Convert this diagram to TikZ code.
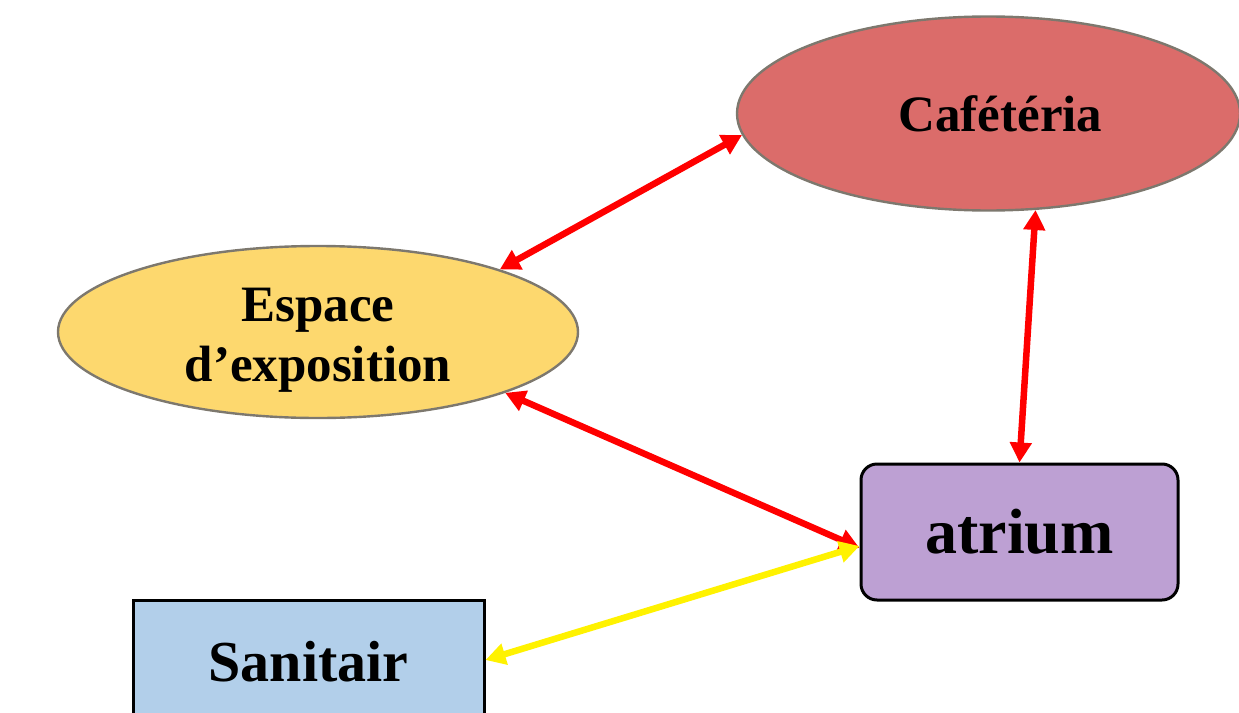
\documentclass[tikz,border=0pt]{standalone}
\usepackage{fontspec}
\setmainfont{Liberation Serif}
\usetikzlibrary{shapes.geometric,arrows.meta}
\definecolor{cafefill}{RGB}{219,108,106}
\definecolor{expofill}{RGB}{253,216,110}
\definecolor{atriumfill}{RGB}{189,160,211}
\definecolor{sanifill}{RGB}{178,207,234}
\definecolor{ellborder}{RGB}{125,120,110}
\tikzset{
  ellnode/.style={ellipse, draw=ellborder, line width=2.4pt, inner sep=0pt, align=center, font=\bfseries\fontsize{51}{60}\selectfont},
  boxnode/.style={draw=black, line width=3pt, inner sep=0pt, align=center},
  link/.style={line width=6.5pt, {Triangle[length=20pt,width=21pt]}-{Triangle[length=20pt,width=21pt]}},
  redlink/.style={link, draw=red, color=red},
  yellowlink/.style={link, draw=yellow, color=yellow}
}
\begin{document}
\begin{tikzpicture}[x=1pt,y=-1pt]
\useasboundingbox (0,0) rectangle (1239,712);
\clip (0,0) rectangle (1239,712);
\node[ellnode, fill=cafefill, minimum width=503pt, minimum height=194pt] (cafe) at (988.5,113.5) {\hspace*{24pt}Cafétéria};
\node[ellnode, fill=expofill, minimum width=520pt, minimum height=172pt, text depth=0pt] (expo) at (318,332) {\raisebox{-5pt}{Espace}\\\raisebox{-5pt}{d’exposition}};
\node[boxnode, fill=atriumfill, rounded corners=16pt, minimum width=317pt, minimum height=136pt, font=\bfseries\fontsize{64}{70}\selectfont] (atrium) at (1019.5,532) {atrium};
\node[boxnode, fill=sanifill, minimum width=351pt, minimum height=124pt, font=\bfseries\fontsize{58}{66}\selectfont] (sani) at (308.5,662) {Sanitair};
\draw[redlink] (cafe.185.5) -- (expo.19);
\draw[redlink] (cafe.296) -- (atrium.north);
\draw[redlink] (expo.-18) -- ([yshift=-16pt]atrium.west);
\draw[yellowlink] ([yshift=-14pt]atrium.west) -- ([yshift=2pt]sani.east);
\end{tikzpicture}
\end{document}
